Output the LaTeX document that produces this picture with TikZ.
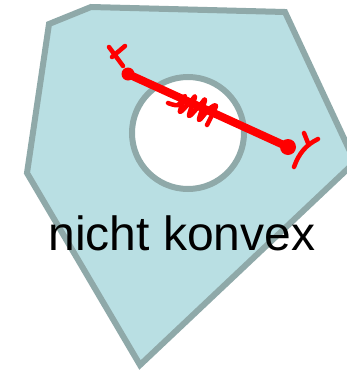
\documentclass[tikz,border=0pt]{standalone}
\usepackage{fontspec}
\setmainfont{Liberation Sans}
\usepackage{xcolor}
\usetikzlibrary{calc}

\definecolor{setfill}{HTML}{B9DFE3}
\definecolor{setline}{HTML}{8FA9A9}

\begin{document}
\begin{tikzpicture}[x=1pt, y=-1pt,
  region/.style={draw=setline, line width=6pt, fill=setfill, line join=miter},
  hole/.style={draw=setline, line width=6pt, fill=white},
  pen/.style={red, line width=4.5pt, line cap=round, line join=round},
  segment/.style={red, line width=8pt, line cap=round},
  label/.style={font=\fontsize{48}{50}\selectfont, inner sep=0pt, anchor=base}
]
\useasboundingbox (0,0) rectangle (347,370);
\clip (0,0) rectangle (347,370);

% nicht konvexe Menge
\draw[region] (49,24) -- (91,7) -- (285,12) -- (355,162) -- (140,365) -- (27,173) -- cycle;
\node[hole, circle, minimum size=112pt, inner sep=0pt] (loch) at (188,133) {};

\node[label] (titel) at (182,250) {nicht konvex};

% Verbindungsstrecke x -- y
\coordinate (ptx) at (128,74);
\coordinate (pty) at (288,147);
\draw[segment] (ptx) -- (pty);
\fill[red] (ptx) circle (6.5pt);
\fill[red] (pty) circle (8pt);

% handgeschriebene Markierungen
\draw[pen] (109,47) -- (123,66);
\draw[pen] (112,57) -- (125,46);
\draw[pen] (304,133) -- (308,143);
\draw[pen] (318,139) .. controls (306,145) and (299,153) .. (294,167);
\draw[pen] plot[smooth, tension=0.55] coordinates {
  (168,103) (178,105) (185,96) (180,112) (191,101) (195,97)
  (189,116) (200,105) (205,100) (199,120) (209,109) (216,106) (207,125)};

\end{tikzpicture}
\end{document}
